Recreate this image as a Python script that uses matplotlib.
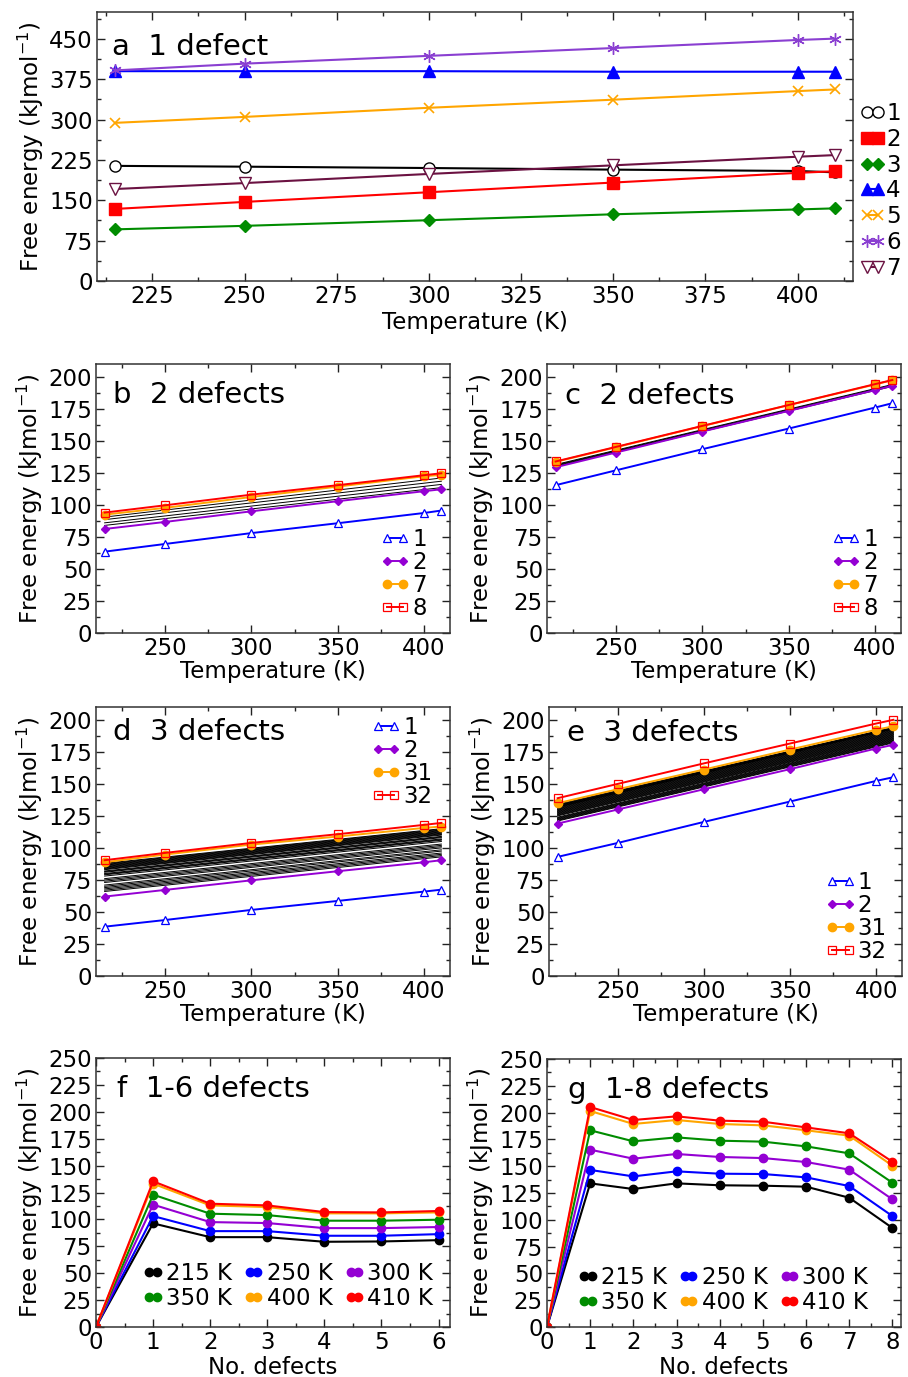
import matplotlib
matplotlib.use("Agg")
import matplotlib.pyplot as plt
from matplotlib.ticker import MultipleLocator

plt.rcParams['font.family'] = ['DejaVu Sans']
plt.rcParams['font.size'] = 16.5

# ---- data ----
T = [215, 250, 300, 350, 400, 410]
T_ends = [215, 410]

# panel a: 1 defect, sites 1-7
a_site1 = [214, 212.5, 210, 207, 204.5, 202]
a_site2 = [134, 147, 165, 183, 201, 204]
a_site3 = [96, 102.5, 113, 124, 133, 135]
a_site4 = [390, 390, 390, 389, 389, 389]
a_site5 = [294, 305, 322, 337, 353, 356]
a_site6 = [391.5, 404, 418.5, 433, 448, 450.5]
a_site7 = [171, 182, 199, 215, 231, 234]

# panel b: 2 defects
b_conf1 = [63.5, 69.5, 78, 85.7, 93.7, 95.6]
b_conf2 = [81.2, 86.7, 95, 102.9, 110.7, 112.2]
b_conf7 = [92.4, 97.7, 106.2, 114.3, 122.4, 123.4]
b_conf8 = [94, 99.7, 108, 115.4, 123.2, 124.7]
b_other_215 = [84, 86, 88.5, 90.5]
b_other_410 = [113.5, 116, 118.5, 121]

# panel c: 2 defects
c_conf1 = [115.4, 127, 143.5, 159.6, 176, 179.4]
c_conf2 = [129.4, 140.9, 157.3, 173.4, 189.6, 193]
c_conf7 = [133.6, 145, 161.5, 177.9, 194, 197.4]
c_conf8 = [133.9, 145.3, 161.7, 178, 194.3, 197.5]
c_other_215 = [130, 130.5, 131, 131.5]
c_other_410 = [192.5, 193, 193.5, 194]

# panel d: 3 defects
d_conf1 = [38.5, 43.7, 51.6, 58.6, 65.9, 67.4]
d_conf2 = [62, 67.2, 74.7, 81.8, 88.8, 90.4]
d_conf31 = [88.8, 94.8, 102.6, 108.9, 115.6, 116.7]
d_conf32 = [90.4, 96.1, 103.9, 110.7, 118, 119.5]
d_other_215 = [66, 67, 68, 69, 70, 71, 73, 74, 75, 76, 78, 79, 79.5, 80,
               81, 81.5, 82, 83, 83.5, 84, 84.5, 85, 85.5, 86, 86.5, 87, 87.5, 88]
d_other_410 = [93, 94, 95, 96, 97.5, 98.5, 100, 101, 102, 103, 105, 106, 106.5, 107,
               108, 108.5, 109, 110, 110.5, 111, 111.5, 112, 112.5, 113, 113.5, 114, 114.5, 115]

# panel e: 3 defects
e_conf1 = [93, 103.9, 120.3, 136.2, 152.3, 155.2]
e_conf2 = [119, 130, 145.8, 161.5, 177.6, 180.5]
e_conf31 = [134.9, 145.8, 161.2, 176.8, 192.2, 195]
e_conf32 = [138.8, 150, 166, 181.5, 197.1, 200]
e_other_215 = [121, 121.5, 122, 122.5, 123, 123.5, 124, 125, 125.5, 126, 126.5, 127, 127.5, 128,
               128.5, 129, 129.5, 130, 130.5, 131, 131.5, 132, 132, 132.5, 133, 133, 133.5, 134]
e_other_410 = [182, 182.5, 183, 183.5, 184, 184.5, 185, 185.5, 186, 186.5, 187, 187.5, 188, 188.5,
               189, 189.5, 190, 190.5, 191, 191.5, 192, 192.5, 193, 193, 193.5, 193.5, 194, 194]

# panels f, g: energy vs number of defects at each temperature
temp_labels = ['215 K', '250 K', '300 K', '350 K', '400 K', '410 K']
temp_colors = ['black', '#0000ff', '#9400d3', '#008c00', '#ffa500', '#ff0000']
f_ndef = [0, 1, 2, 3, 4, 5, 6]
f_215 = [0, 96.3, 83.5, 83.5, 79.2, 79.5, 80.7]
f_250 = [0, 103.1, 89.1, 89.1, 84.8, 84.8, 86.3]
f_300 = [0, 113.7, 97.5, 96.6, 91.9, 91.9, 92.9]
f_350 = [0, 123, 105.3, 104, 98.8, 98.8, 99.7]
f_400 = [0, 133.2, 113, 111.5, 105.6, 105.6, 106.5]
f_410 = [0, 135.4, 114.6, 113, 106.8, 106.5, 107.8]

g_ndef = [0, 1, 2, 3, 4, 5, 6, 7, 8]
g_215 = [0, 134, 128.7, 134, 132.2, 131.8, 130.9, 120.6, 92.4]
g_250 = [0, 146.5, 140.5, 145.2, 143, 142.7, 139.6, 131.5, 103.5]
g_300 = [0, 165.4, 157, 161.4, 158.6, 157.6, 153.9, 146.8, 119.1]
g_350 = [0, 183.5, 173.2, 176.9, 173.8, 172.9, 168.5, 162, 134.6]
g_400 = [0, 201.5, 189.4, 193.1, 189.4, 188.1, 183.5, 178.5, 150.5]
g_410 = [0, 205.2, 193.1, 196.5, 192.5, 191.5, 186.2, 180.7, 154.2]

W, H = 908, 1377
fig = plt.figure(figsize=(W / 100, H / 100), dpi=100)


def make_ax(x0, y0, x1, y1):
    # pixel box -> figure fraction
    return fig.add_axes([x0 / W, 1 - y1 / H, (x1 - x0) / W, (y1 - y0) / H])


def style(ax, xmaj, xmin, ymaj, ymin):
    ax.xaxis.set_major_locator(MultipleLocator(xmaj))
    ax.xaxis.set_minor_locator(MultipleLocator(xmin))
    ax.yaxis.set_major_locator(MultipleLocator(ymaj))
    ax.yaxis.set_minor_locator(MultipleLocator(ymin))
    ax.tick_params(which='both', direction='in', top=True, right=True, colors='#222222',
                   labelcolor='black', width=1.0)
    ax.tick_params(which='major', length=6, pad=3)
    ax.tick_params(which='minor', length=3)
    for s in ax.spines.values():
        s.set_linewidth(1.1)
        s.set_color('#333333')
    ax.set_ylabel('Free energy (kJmol$^{-1}$)', labelpad=2)


title_font = dict(size=21)

# ---- panel a ----
ax = make_ax(97, 12, 853, 281)
ax.plot(T, a_site1, '-o', color='black', mfc='white', ms=8, mew=1, lw=1.5, label='1')
ax.plot(T, a_site2, '-s', color='#ff0000', ms=8, lw=1.5, label='2')
ax.plot(T, a_site3, '-D', color='#008c00', ms=6.5, lw=1.5, label='3')
ax.plot(T, a_site4, '-^', color='#0000ff', ms=8, lw=1.5, label='4')
ax.plot(T, a_site5, '-x', color='#ffa500', ms=7, mew=1.2, lw=1.5, label='5')
ax.plot(T, a_site6, '-', marker=(6, 2, 0), color='#8a3fd1', ms=9, mew=1, lw=1.5, label='6')
ax.plot(T, a_site7, '-v', color='#6b1242', mfc='white', ms=8, mew=1, lw=1.5, label='7')
ax.set_xlim(210, 415)
ax.set_ylim(0, 500)
style(ax, 25, 12.5, 75, 37.5)
ax.set_xlabel('Temperature (K)', labelpad=2)
ax.text(0.02, 0.84, 'a  1 defect', transform=ax.transAxes, va='baseline', **title_font)
ax.legend(loc='center left', bbox_to_anchor=(1.0, 0.335), frameon=False, numpoints=2,
          handlelength=1.1, handletextpad=0.05, labelspacing=0.12, borderaxespad=0.0,
          borderpad=0.3, fontsize=16.5)


def panel_T(ax, c1, c2, chi, ctop, other_lo, other_hi, labs, title, tpos, legpos):
    for lo, hi in zip(other_lo, other_hi):
        ax.plot(T_ends, [lo, hi], '-', color='black', lw=0.7, zorder=1)
    ax.plot(T, c1, '-^', color='#0000ff', mfc='white', ms=5.5, mew=0.9, lw=1.4, label=labs[0], zorder=3)
    ax.plot(T, c2, '-D', color='#9400d3', ms=4, lw=1.4, label=labs[1], zorder=3)
    ax.plot(T, chi, '-o', color='#ffa500', ms=6, lw=1.4, label=labs[2], zorder=3)
    ax.plot(T, ctop, '-s', color='#ff0000', mfc='none', ms=5.5, mew=0.9, lw=1.4, label=labs[3], zorder=4)
    ax.set_xlim(210, 415)
    ax.set_ylim(0, 210)
    style(ax, 50, 25, 25, 12.5)
    ax.set_xlabel('Temperature (K)', labelpad=0)
    ax.text(tpos[0], tpos[1], title, transform=ax.transAxes, va='baseline', **title_font)
    ax.legend(loc=legpos[0], bbox_to_anchor=legpos[1], frameon=False, numpoints=2,
              handlelength=1.3, handletextpad=0.1, labelspacing=0.0, borderaxespad=0,
              fontsize=16.5)


ax = make_ax(96, 364, 450, 633)
panel_T(ax, b_conf1, b_conf2, b_conf7, b_conf8, b_other_215, b_other_410,
        ['1', '2', '7', '8'], 'b  2 defects', (0.048, 0.855), ('lower right', (0.96, 0.015)))

ax = make_ax(547, 364, 901, 633)
panel_T(ax, c_conf1, c_conf2, c_conf7, c_conf8, c_other_215, c_other_410,
        ['1', '2', '7', '8'], 'c  2 defects', (0.05, 0.85), ('lower right', (0.96, 0.015)))

ax = make_ax(96, 707, 450, 976)
panel_T(ax, d_conf1, d_conf2, d_conf31, d_conf32, d_other_215, d_other_410,
        ['1', '2', '31', '32'], 'd  3 defects', (0.048, 0.877), ('upper right', (0.977, 1.0)))

ax = make_ax(549, 707, 902, 976)
panel_T(ax, e_conf1, e_conf2, e_conf31, e_conf32, e_other_215, e_other_410,
        ['1', '2', '31', '32'], 'e  3 defects', (0.05, 0.874), ('lower right', (0.983, 0.015)))


def panel_N(ax, x, series, xmax, title, legpos):
    lines = []
    for y, c, lab in zip(series, temp_colors, temp_labels):
        ln, = ax.plot(x, y, '-o', color=c, ms=6, lw=1.5, label=lab)
        lines.append(ln)
    ax.set_xlim(0, xmax)
    ax.set_ylim(0, 250)
    style(ax, 1, 0.5, 25, 12.5)
    ax.set_xlabel('No. defects', labelpad=1)
    ax.text(0.06, 0.855, title, transform=ax.transAxes, va='baseline', **title_font)
    order = [0, 3, 1, 4, 2, 5]
    ax.legend([lines[i] for i in order], [temp_labels[i] for i in order], ncol=3,
              loc='lower left', bbox_to_anchor=legpos, frameon=False, numpoints=2,
              handlelength=0.92, handletextpad=0.1, columnspacing=0.5, labelspacing=0.06,
              borderaxespad=0, fontsize=16.5)


ax = make_ax(96, 1058, 450, 1327)
panel_N(ax, f_ndef, [f_215, f_250, f_300, f_350, f_400, f_410], 6.2, 'f  1-6 defects', (0.105, 0.03))

ax = make_ax(547, 1059, 901, 1327)
panel_N(ax, g_ndef, [g_215, g_250, g_300, g_350, g_400, g_410], 8.2, 'g  1-8 defects', (0.06, 0.015))

fig.savefig('out.png', dpi=100)
